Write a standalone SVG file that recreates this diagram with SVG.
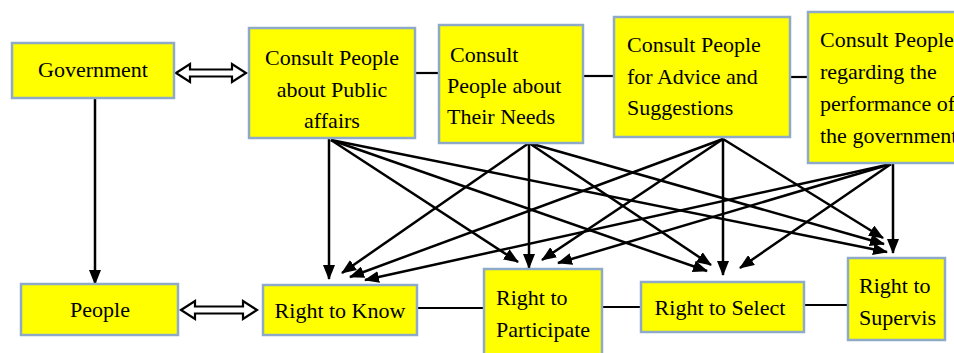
<svg xmlns="http://www.w3.org/2000/svg" width="954" height="353" viewBox="0 0 954 353">
<style>
.box{fill:#ffff00;stroke:#8eaac8;stroke-width:2.5}
.t{font-family:"Liberation Serif","Times New Roman",serif;font-size:22px;fill:#000}
.c{text-anchor:middle}
.ln{stroke:#000;stroke-width:2.2;fill:none}
.ar{stroke:#000;stroke-width:2.5;fill:none;marker-end:url(#ah)}
.dbl{fill:#fff;stroke:#000;stroke-width:2.2;stroke-linejoin:miter}
</style>
<defs>
<marker id="ah" markerUnits="userSpaceOnUse" markerWidth="15" markerHeight="12" refX="14" refY="6" orient="auto">
<path d="M0,0 L15,6 L0,12 z" fill="#000"/>
</marker>
</defs>
<rect width="954" height="353" fill="#fff"/>

<g id="connectors">
<line class="ln" x1="415" y1="73" x2="439" y2="73" stroke-width="3"/>
<line class="ln" x1="583" y1="76" x2="614" y2="76" stroke-width="1.6"/>
<line class="ln" x1="790" y1="77" x2="808" y2="77" stroke-width="3"/>
<line class="ln" x1="417" y1="308" x2="484" y2="308" stroke-width="1.6"/>
<line class="ln" x1="602" y1="307" x2="641" y2="307" stroke-width="1.6"/>
<line class="ln" x1="804" y1="305" x2="848" y2="305" stroke-width="1.6"/>
<line class="ar" x1="95" y1="98" x2="95" y2="284"/>
<polygon class="dbl" points="176,73 190,64 190,69.5 232,69.5 232,64 246,73 232,82 232,76.5 190,76.5 190,82"/>
<polygon class="dbl" points="181,310 195,301 195,306.5 243,306.5 243,301 257,310 243,319 243,313.5 195,313.5 195,319"/>
<!-- from Consult 1 -->
<line class="ar" x1="329" y1="139" x2="329" y2="279"/>
<line class="ar" x1="331" y1="140" x2="518" y2="262"/>
<line class="ar" x1="331" y1="140" x2="707" y2="271"/>
<line class="ar" x1="331" y1="140" x2="887" y2="252"/>
<!-- from Consult 2 -->
<line class="ar" x1="529" y1="143" x2="342" y2="273"/>
<line class="ar" x1="529" y1="143" x2="529" y2="268"/>
<line class="ar" x1="529" y1="143" x2="711" y2="265"/>
<line class="ar" x1="529" y1="143" x2="884" y2="244"/>
<!-- from Consult 3 -->
<line class="ar" x1="723" y1="139" x2="350" y2="277"/>
<line class="ar" x1="723" y1="139" x2="542" y2="260"/>
<line class="ar" x1="723" y1="139" x2="723" y2="275"/>
<line class="ar" x1="723" y1="139" x2="883" y2="238"/>
<!-- from Consult 4 -->
<line class="ar" x1="891" y1="164" x2="365" y2="280"/>
<line class="ar" x1="891" y1="164" x2="558" y2="263"/>
<line class="ar" x1="891" y1="164" x2="740" y2="268"/>
<line class="ar" x1="893" y1="164" x2="893" y2="253"/>
</g>

<g id="government">
<rect class="box" x="12" y="43" width="162" height="55"/>
<text class="t c" x="93" y="77">Government</text>
</g>
<g id="consult-public-affairs">
<rect class="box" x="249" y="28" width="166" height="110"/>
<text class="t c" x="332" y="65">Consult People</text>
<text class="t c" x="332" y="97">about Public</text>
<text class="t c" x="332" y="128">affairs</text>
</g>
<g id="consult-needs">
<rect class="box" x="439" y="25" width="144" height="118"/>
<text class="t" x="450" y="62">Consult</text>
<text class="t" x="447" y="93">People about</text>
<text class="t" x="447" y="124">Their Needs</text>
</g>
<g id="consult-advice">
<rect class="box" x="614" y="17" width="176" height="120"/>
<text class="t" x="627" y="52">Consult People</text>
<text class="t" x="627" y="84">for Advice and</text>
<text class="t" x="627" y="115">Suggestions</text>
</g>
<g id="consult-performance">
<rect class="box" x="808" y="12" width="160" height="151"/>
<text class="t" x="820" y="47">Consult People</text>
<text class="t" x="820" y="79">regarding the</text>
<text class="t" x="820" y="111">performance of</text>
<text class="t" x="820" y="143">the government</text>
</g>
<g id="people">
<rect class="box" x="21" y="284" width="157" height="51"/>
<text class="t c" x="100" y="317">People</text>
</g>
<g id="right-to-know">
<rect class="box" x="263" y="285" width="154" height="50"/>
<text class="t c" x="340" y="318">Right to Know</text>
</g>
<g id="right-to-participate">
<rect class="box" x="484" y="269" width="118" height="95"/>
<text class="t" x="496" y="305">Right to</text>
<text class="t" x="496" y="337">Participate</text>
</g>
<g id="right-to-select">
<rect class="box" x="641" y="282" width="163" height="50"/>
<text class="t c" x="720" y="315">Right to Select</text>
</g>
<g id="right-to-supervise">
<rect class="box" x="848" y="258" width="97" height="82"/>
<text class="t" x="859" y="293">Right to</text>
<text class="t" x="859" y="325">Supervis</text>
</g>
</svg>
